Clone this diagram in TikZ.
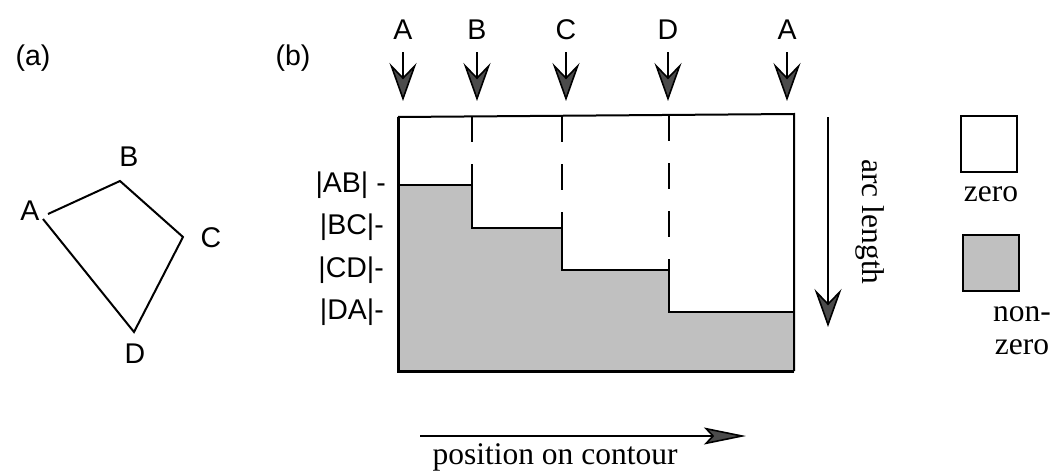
\documentclass[tikz,border=0pt]{standalone}
\usepackage{fontspec}
\setmainfont{Liberation Serif}
\newfontfamily\hsans{Liberation Sans}
\usetikzlibrary{arrows.meta}
\definecolor{stip}{RGB}{192,192,192}
\definecolor{headc}{RGB}{75,75,75}
\tikzset{
  sanslab/.style={font=\hsans\fontsize{28.5}{30}\selectfont, inner sep=0pt},
  serlab/.style={font=\fontsize{31.5}{33}\selectfont, inner sep=0pt},
  bigarrow/.style={line width=1.6pt, -{Stealth[length=38pt,width=27pt,inset=14pt,fill=headc]}},
  outline/.style={line width=2pt},
  dashline/.style={line width=2pt, dash pattern=on 26pt off 22pt},
  legbox/.style={draw, line width=2pt, minimum width=56pt, minimum height=56pt, inner sep=0pt}
}
\begin{document}
\begin{tikzpicture}[x=1pt,y=-1pt]
\useasboundingbox (0,0) rectangle (1061,471);
% (a)
\node[sanslab] (la) at (33,58) {(a)};
\coordinate (A1) at (48,214);
\coordinate (A2) at (43,219);
\coordinate (B) at (120,181);
\coordinate (C) at (183,237);
\coordinate (D) at (134,332);
\draw[line width=2pt, line join=miter] (A1) -- (B) -- (C) -- (D) -- (A2);
\node[sanslab] (tA) at (30,211) {A};
\node[sanslab] (tB) at (129,157) {B};
\node[sanslab] (tC) at (211,238) {C};
\node[sanslab] (tD) at (135,354) {D};
% (b)
\node[sanslab] (lb) at (293,58) {(b)};
\fill[stip] (398,185) -- (472,185) -- (472,228) -- (562,228) -- (562,270) -- (669,270) -- (669,312) -- (794,312) -- (794,371) -- (398,371) -- cycle;
\draw[outline] (398,185) -- (472,185) -- (472,228) -- (562,228) -- (562,270) -- (669,270) -- (669,312) -- (794,312);
\coordinate (R1) at (398,117);
\coordinate (R2) at (794,114);
\coordinate (R3) at (794,371);
\coordinate (R4) at (398,371);
\draw[outline] (R1) -- (R2) -- (R3);
\draw[line width=3pt] (R3) -- (R4) -- (R1);
\draw[dashline] (472,116) -- (472,185);
\draw[dashline] (562,116) -- (562,228);
\draw[dashline] (669,115) -- (669,312);
% top labels and arrows
\foreach \n/\t/\x in {p1/A/403, p2/B/477, p3/C/566, p4/D/668, p5/A/787}{
  \node[sanslab] (\n) at (\x,30) {\t};
  \coordinate (\n tip) at (\x,101);
  \draw[bigarrow] ([yshift=-12pt]\n.south) -- (\n tip);
}
% row labels
\node[sanslab, anchor=east] (rAB) at (386,185) {|AB| -};
\node[sanslab, anchor=east] (rBC) at (384,227) {|BC|-};
\node[sanslab, anchor=east] (rCD) at (384,270) {|CD|-};
\node[sanslab, anchor=east] (rDA) at (384,312) {|DA|-};
% arc length
\coordinate (al1) at (828,117);
\coordinate (al2) at (828,327);
\draw[bigarrow] (al1) -- (al2);
\node[serlab, rotate=-90] (arcl) at (870,222) {arc length};
% position on contour
\coordinate (pc1) at (420,436);
\coordinate (pc2) at (746,436);
\draw[line width=1.6pt, -{Stealth[length=42pt,width=17pt,inset=8pt,fill=headc]}] (pc1) -- (pc2);
\node[serlab] (pos) at (555,457) {position on contour};
% legend
\node[legbox, fill=white] (lz) at (989,144) {};
\node[serlab] (tz) at (991,194) {zero};
\node[legbox, fill=stip] (lnz) at (991,263) {};
\node[serlab] (tnz1) at (1022,314) {non-};
\node[serlab] (tnz2) at (1022,347) {zero};
\end{tikzpicture}
\end{document}
